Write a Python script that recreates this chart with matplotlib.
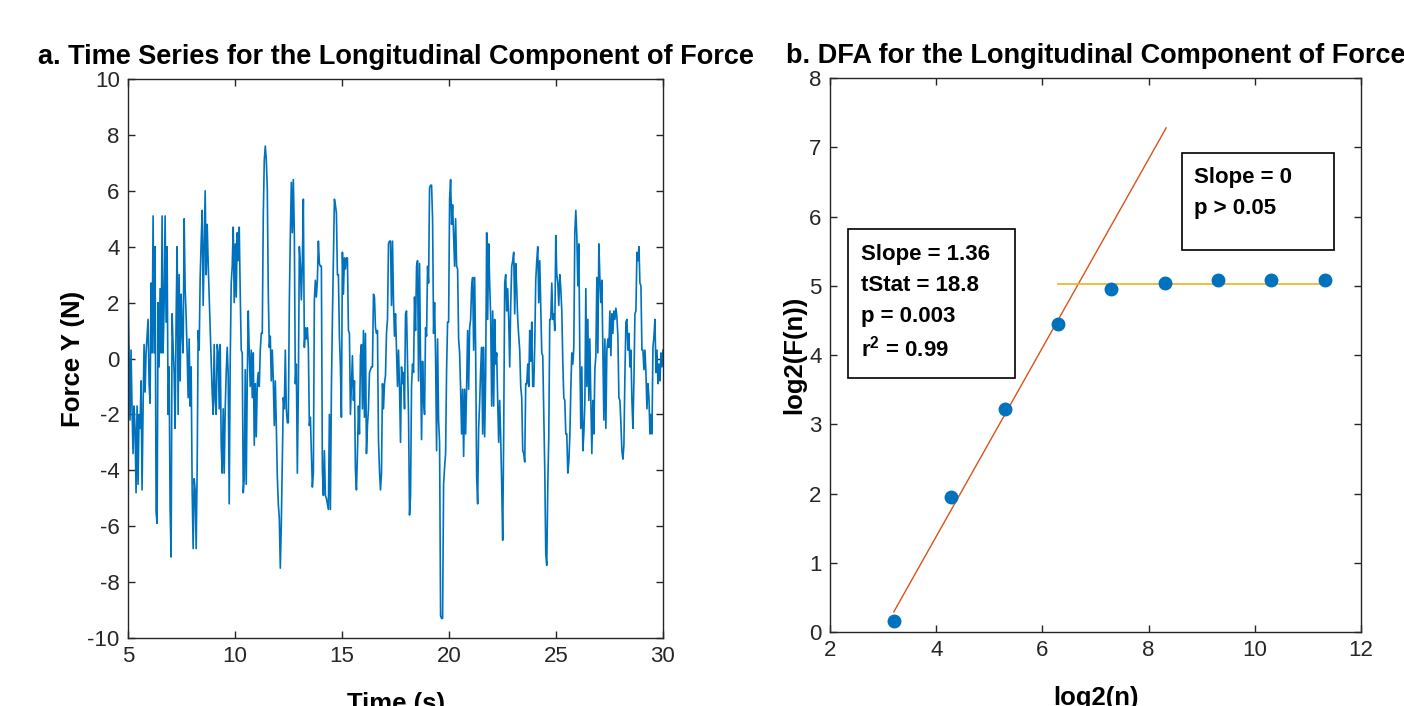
import numpy as np
import matplotlib
matplotlib.use("Agg")
import matplotlib.pyplot as plt
from matplotlib.patches import Rectangle

plt.rcParams['font.family'] = ['Liberation Sans', 'DejaVu Sans']
plt.rcParams['mathtext.fontset'] = 'custom'
plt.rcParams['mathtext.rm'] = 'Liberation Sans'
plt.rcParams['mathtext.bf'] = 'Liberation Sans:bold'
plt.rcParams['axes.unicode_minus'] = False

# ---- panel a: longitudinal force (5 s .. 30 s) ----
force_y = [
    2.8, 0.3, -2.2, 0.3, -1.8, -3.4, -1.7, -2.5, -4.8, -1.7,
    -4.5, -2.0, -2.5, -0.8, -4.7, -1.8, 0.5, -1.2, 0.2, 0.8,
    1.4, -0.9, -1.6, 2.7, 0.2, 5.1, 0.2, 4.0, -5.5, -5.9,
    2.0, -0.3, 2.5, 0.2, 5.1, 0.2, 1.9, 5.1, 1.3, 4.0,
    -2.0, -0.3, -5.4, -7.1, 1.6, 0.4, -0.5, -2.5, 1.5, 4.0,
    -2.0, 3.0, -0.8, 2.3, 0.9, 0.2, 5.0, 2.5, 1.5, 0.2,
    -1.4, 0.7, -1.7, -0.3, -4.7, -6.8, -4.3, -4.7, -6.8, -3.9,
    1.0, 0.3, 2.9, 4.2, 5.3, 1.9, 4.0, 6.0, 3.0, 4.8,
    3.4, 2.2, 0.9, -0.1, -1.2, -2.0, 0.5, -1.5, -2.0, 0.5,
    # 9.2 s ..
    0.2, -1.8, 0.5, -3.1, -4.1, -1.8, -4.1, -1.8, -0.5, 0.4,
    -0.6, -5.2, -0.1, 2.7, 3.3, 4.7, 2.0, 4.1, 2.2, 4.5,
    3.5, 4.7, 2.3, 0.3, 0.2, -4.8, -4.3, -0.4, -4.5, -0.8,
    1.7, 0.2, -1.0, 0.3, -1.4, 0.2, -3.1, -0.9, -2.8, -0.9,
    -0.5, -1.0, 0.3, 0.9, 0.9, 5.1, 7.1, 7.6, 7.1, 6.1,
    2.3, 0.4, 0.8, -0.8, 0.3, -0.8, -2.4, -0.8, -2.4, -4.2,
    -5.2, -5.7, -7.5, -5.9, -3.7, -1.4, -1.8, 0.3, -1.8, -2.3,
    -2.3, 2.0, 4.4, 6.3, 4.5, 6.4, 4.5, -0.9, -0.2, -4.1,
    -1.1, 4.0, 3.4, 2.1, 3.4, 5.7, 0.4, 1.1, 0.7, 1.1,
    # 13.4 s ..
    0.4, -2.4, -2.1, -3.4, -4.6, -4.1, 2.1, 2.8, 2.2, 2.8,
    4.2, 3.4, 3.3, 3.3, -4.0, -4.9, -3.3, -4.9, -5.0, -5.2,
    -5.4, -2.0, -5.4, -1.1, 1.4, 3.6, 5.7, 5.5, 5.2, 3.0,
    3.0, 0.8, -0.3, -2.1, 3.8, 2.3, 3.6, 3.2, 3.6, 3.6,
    1.0, 0.9, -2.0, -1.0, 0.1, -1.5, -0.8, -4.0, -4.7, -3.4,
    -1.7, -2.7, 0.1, 0.5, -1.8, 1.0, -2.1, 0.9, -3.4, -2.4,
    -1.8, -0.5, -0.4, -0.3, -0.3, 2.3, 2.2, 1.1, 0.9, 1.0,
    -2.9, -4.0, -4.7, -4.1, -0.9, -1.8, -0.9, -0.6, 0.9, 1.4,
    4.1, 4.2, 4.2, 1.9, 4.2, 2.0, 0.8, 1.6, 0.3, -1.0,
    # 17.6 s ..
    0.3, -1.0, -3.0, -0.3, -0.9, -0.5, -1.8, 1.6, 1.7, -0.2,
    -2.0, -5.6, -4.9, -1.0, -0.2, -0.5, 2.2, 1.0, 3.3, 3.5,
    -0.8, 3.4, -0.1, -2.9, -0.1, -1.5, -2.0, 1.1, 0.8, 3.3,
    2.7, 6.1, 6.2, 6.2, 5.0, 0.9, 2.0, 0.1, -3.3, 0.7,
    -2.2, -3.0, -9.2, -9.3, -9.3, -4.5, -3.9, -3.4, -0.4, 1.3,
    1.3, 5.7, 6.4, 4.8, 5.5, 4.4, 3.3, 5.0, 3.3, 3.2,
    0.7, 0.2, -1.1, -2.7, -1.1, -3.5, -1.1, -2.7, -1.0, 1.0,
    -1.1, 1.1, 1.4, 2.6, 2.9, 0.3, 2.9, 0.3, -4.2, -5.2,
    -2.5, -1.6, -0.4, 0.4, -2.7, 0.4, -2.8, -0.6, 4.5, 1.4,
    # 21.8 s ..
    4.1, 2.7, 1.5, -1.7, 1.7, -1.7, 1.4, -0.2, 0.2, -1.5,
    -3.0, -1.5, -2.8, -4.5, -6.5, -2.7, 2.7, 3.0, 1.7, 2.5,
    1.4, -0.3, 1.9, 3.3, 3.5, 3.8, 1.6, 3.4, 2.5, 1.4,
    0.8, 0.3, -1.0, -1.4, -3.3, -3.4, -3.7, -0.9, -0.9, -0.2,
    -1.0, 1.0, -0.1, 1.3, -1.0, -1.0, 0.5, 2.8, 3.5, 4.0,
    2.0, 3.5, 1.9, 0.2, 0.1, -2.0, -4.0, -7.0, -7.4, -4.6,
    -2.8, 1.4, 1.4, 2.7, 1.4, 1.6, 1.0, 4.4, 3.0, 2.7,
    1.9, 3.0, 2.5, 1.7, -0.1, -1.4, -1.5, -2.7, -2.7, -4.1,
    -3.7, -2.8, -1.1, 0.2, -0.2, 0.4, 4.5, 5.3, 4.4, 2.6,
    # 26.0 s ..
    4.1, 0.1, -2.5, -0.3, -3.3, -2.7, -1.6, 2.5, -1.0, 1.4,
    -1.5, 0.7, -1.5, -3.4, -1.5, -2.7, -0.4, 0.1, 2.9, 0.2,
    4.1, 2.9, 2.0, 2.8, 0.2, -2.2, 0.7, -2.5, 0.3, 0.7,
    0.4, 1.7, 0.1, 1.6, 0.9, 1.7, 1.4, 1.8, 1.5, 0.8,
    -1.4, -1.5, -2.3, -3.3, -3.6, -3.1, -0.6, 1.3, 1.4, 0.3,
    0.9, -0.3, 0.3, -1.5, -2.5, -0.8, 1.6, 1.7, 3.8, 3.5,
    4.0, 2.7, 2.6, 0.3, 0.3, -0.4, 0.3, -0.5, -1.8, -0.9,
    -1.4, -2.7, -2.0, -2.7, 0.4, 0.8, 1.4, -0.5, 0.3, -0.9,
    -0.2, -0.8, 0.2, -0.3, 0.3,
]
t_start, t_end = 5, 30
time_s = np.linspace(t_start, t_end, len(force_y))

# ---- panel b: DFA ----
log2_n = [3.2, 4.28, 5.3, 6.29, 7.3, 8.3, 9.31, 10.31, 11.32]
log2_F = [0.16, 1.95, 3.22, 4.45, 4.96, 5.04, 5.08, 5.08, 5.08]
fit1_x = [3.2, 8.33]
fit1_y = [0.29, 7.28]
fit2_x = [6.29, 11.32]
fit2_y = [5.02, 5.02]

blue = '#0072BD'
red = '#D95319'
yellow = '#EDB120'
axis_grey = '#262626'

fig = plt.figure(figsize=(14.04, 7.06), dpi=100)
ax1 = fig.add_axes([0.0912, 0.0963, 0.3810, 0.7918])
ax2 = fig.add_axes([0.5912, 0.1048, 0.3782, 0.7847])

ax1.plot(time_s, force_y, color=blue, lw=1.2)
ax1.set_xlim(5, 30)
ax1.set_ylim(-10, 10)
ax1.set_xticks([5, 10, 15, 20, 25, 30])
ax1.set_yticks(range(-10, 11, 2))
ax1.set_xlabel('Time (s)', fontsize=18.5, fontweight='bold', labelpad=18)
ax1.set_ylabel('Force Y (N)', fontsize=18.5, fontweight='bold', labelpad=2)
ax1.set_title('a. Time Series for the Longitudinal Component of Force',
              fontsize=19.5, fontweight='bold', pad=11)

ax2.plot(fit1_x, fit1_y, color=red, lw=1.0)
ax2.plot(fit2_x, fit2_y, color=yellow, lw=1.2)
ax2.plot(log2_n, log2_F, 'o', color=blue, ms=9)
ax2.set_xlim(2, 12)
ax2.set_ylim(0, 8)
ax2.set_xticks(range(2, 13, 2))
ax2.set_yticks(range(0, 9))
ax2.set_xlabel('log2(n)', fontsize=18.5, fontweight='bold', labelpad=18)
ax2.set_ylabel('log2(F(n))', fontsize=18.5, fontweight='bold', labelpad=2)
ax2.set_title('b. DFA for the Longitudinal Component of Force',
              fontsize=19.5, fontweight='bold', pad=11)

for ax in (ax1, ax2):
    ax.tick_params(direction='in', length=5, width=1, top=True, right=True,
                   labelsize=16, colors=axis_grey, pad=6)
    for s in ax.spines.values():
        s.set_color(axis_grey)
        s.set_linewidth(1.0)

# stat boxes
ax2.add_patch(Rectangle((0.034, 0.458), 0.314, 0.269, transform=ax2.transAxes,
                        fill=False, edgecolor='black', lw=1.2))
lines1 = ['Slope = 1.36', 'tStat = 18.8', 'p = 0.003', r'r$^{\mathbf{2}}$ = 0.99']
for txt, yy in zip(lines1, [0.682, 0.626, 0.570, 0.512]):
    ax2.text(0.058, yy, txt, transform=ax2.transAxes, fontsize=16,
             fontweight='bold', va='center', ha='left')
ax2.add_patch(Rectangle((0.663, 0.690), 0.286, 0.175, transform=ax2.transAxes,
                        fill=False, edgecolor='black', lw=1.2))
for txt, yy in zip(['Slope = 0', 'p > 0.05'], [0.821, 0.765]):
    ax2.text(0.686, yy, txt, transform=ax2.transAxes, fontsize=16,
             fontweight='bold', va='center', ha='left')

fig.savefig('out.png', dpi=100)
